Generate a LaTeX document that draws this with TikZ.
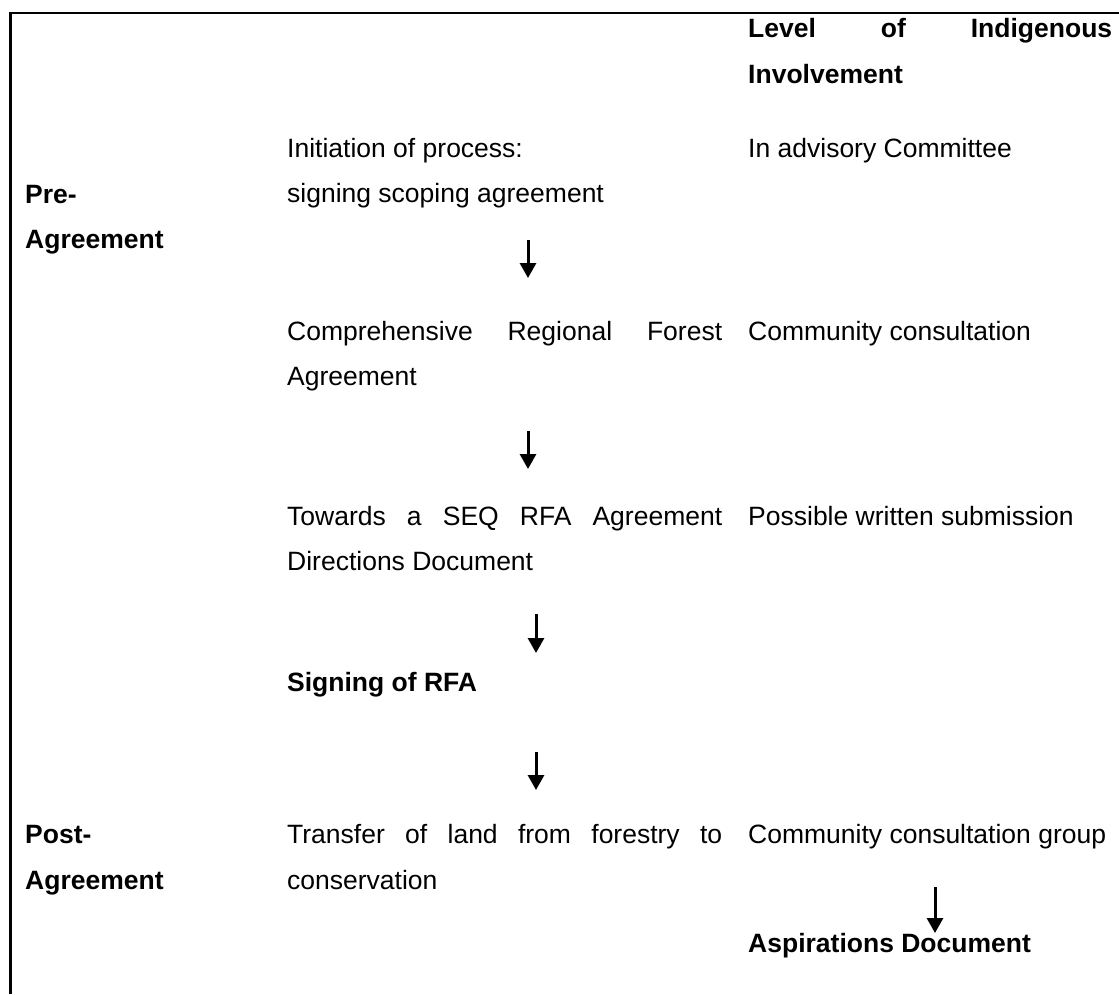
\documentclass[tikz,border=0pt]{standalone}
\usepackage{fontspec}
\setmainfont{Liberation Sans}
\usetikzlibrary{arrows.meta}

\begin{document}
\begin{tikzpicture}[x=1pt,y=-1pt]
 \tikzset{
  cellText/.style={anchor=base west, inner sep=0pt, font=\fontsize{26.5}{45.5}\selectfont},
  headText/.style={cellText, font=\fontsize{26.5}{45.5}\selectfont\bfseries},
  flowArrow/.style={-{Triangle[width=16pt,length=15pt]}, line width=3pt},
  frameLine/.style={line width=2.5pt}
  }
  \useasboundingbox (0,0) rectangle (1119,994);
  % the frame
  \coordinate (fT) at (1119,13);
  \coordinate (fC) at (10.7,13);
  \coordinate (fB) at (10.7,994);
  \draw[frameLine] (fT) -- (fC) -- (fB);

  % left column
  \node[headText] (pre1) at (25,203) {Pre-};
  \node[headText] (pre2) at (25,248) {Agreement};
  \node[headText] (post1) at (25,843) {Post-};
  \node[headText] (post2) at (25,889) {Agreement};

  % middle column
  \node[cellText] (init1) at (287,157) {Initiation of process:};
  \node[cellText] (init2) at (287,202) {signing scoping agreement};
  \node[cellText] (comp1) at (287,340) {\makebox[435pt][s]{Comprehensive Regional Forest}};
  \node[cellText] (comp2) at (287,385) {Agreement};
  \node[cellText] (tow1) at (287,525) {\makebox[435pt][s]{Towards a SEQ RFA Agreement}};
  \node[cellText] (tow2) at (287,570) {Directions Document};
  \node[headText] (sign) at (287,691) {Signing of RFA};
  \node[cellText] (trans1) at (287,843) {\makebox[435pt][s]{Transfer of land from forestry to}};
  \node[cellText] (trans2) at (287,889) {conservation};

  % right column
  \node[headText] (lev1) at (748,37) {\makebox[364pt][s]{Level of Indigenous}};
  \node[headText] (lev2) at (748,83) {Involvement};
  \node[cellText] (inv1) at (748,157) {In advisory Committee};
  \node[cellText] (inv2) at (748,340) {Community consultation};
  \node[cellText] (inv3) at (748,525) {Possible written submission};
  \node[cellText] (inv4) at (748,843) {Community consultation group};
  \node[headText] (asp) at (748,952) {Aspirations Document};

  % arrows
  \coordinate (a1s) at (528,240);
  \coordinate (a1e) at (528,278);
  \coordinate (a2s) at (528,431);
  \coordinate (a2e) at (528,469);
  \coordinate (a3s) at (536,614);
  \coordinate (a3e) at (536,653);
  \coordinate (a4s) at (536,752);
  \coordinate (a4e) at (536,790);
  \coordinate (a5s) at (935,887);
  \coordinate (a5e) at (935,933);
  \draw[flowArrow] (a1s) -- (a1e);
  \draw[flowArrow] (a2s) -- (a2e);
  \draw[flowArrow] (a3s) -- (a3e);
  \draw[flowArrow] (a4s) -- (a4e);
  \draw[flowArrow] (a5s) -- (a5e);
\end{tikzpicture}
\end{document}
